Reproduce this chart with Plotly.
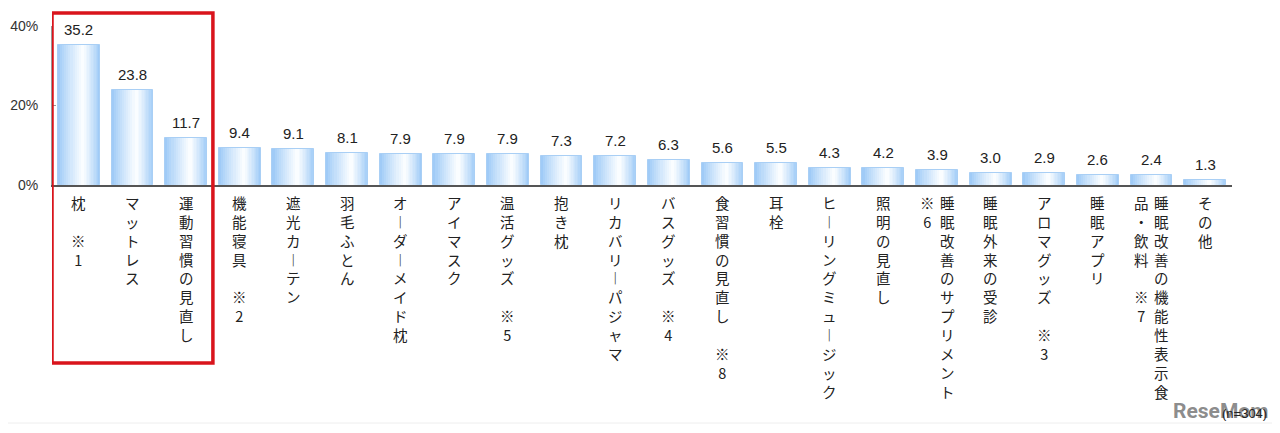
import plotly.graph_objects as go

categories = ["枕　※1", "マットレス", "運動習慣の見直し", "機能寝具　※2", "遮光カーテン", "羽毛ふとん",
              "オーダーメイド枕", "アイマスク", "温活グッズ　※5", "抱き枕", "リカバリーパジャマ",
              "バスグッズ　※4", "食習慣の見直し　※8", "耳栓", "ヒーリングミュージック", "照明の見直し",
              "睡眠改善のサプリメント　※6", "睡眠外来の受診", "アロマグッズ　※3", "睡眠アプリ",
              "睡眠改善の機能性表示食品・飲料　※7", "その他"]
values = [35.2, 23.8, 11.7, 9.4, 9.1, 8.1, 7.9, 7.9, 7.9, 7.3, 7.2, 6.3, 5.6, 5.5, 4.3, 4.2,
          3.9, 3.0, 2.9, 2.6, 2.4, 1.3]
y_ticks = [0, 20, 40]
y_tick_labels = ["0%", "20%", "40%"]
highlighted = 3  # first three categories are boxed
note_text = "(n=304)"
watermark = "ReseMom"

n = len(categories)
xs = list(range(n))

fig = go.Figure()

# gradient bars built from overlaid layers
W = 0.78
N = 12
edge = (160, 203, 247)
white = (250, 253, 255)
for k in range(N):
    a = 1 - k / N
    left = 0.6 - 0.6 * a
    right = 0.6 + 0.4 * a
    t = (k / (N - 1)) ** 0.9
    c = tuple(round(edge[i] * (1 - t) + white[i] * t) for i in range(3))
    fig.add_trace(go.Bar(
        x=xs, y=values, width=W * (right - left), offset=-W / 2 + W * left,
        marker=dict(color="rgb(%d,%d,%d)" % c,
                    line=dict(color="#a9cff5", width=1 if k == 0 else 0)),
        hoverinfo="skip", showlegend=False,
    ))

# value labels
for i, v in enumerate(values):
    fig.add_annotation(x=i, y=v, xref="x", yref="y", text=f"{v:.1f}", showarrow=False,
                       yanchor="bottom", yshift=5,
                       font=dict(family="Liberation Sans, Arial", size=15, color="#222"))

# vertical category labels
vmap = {"ー": "︱"}
COL = 11
for i, lab in enumerate(categories):
    chars = list(lab)
    cols = []
    while chars:
        while chars and chars[0] == "\u3000":
            chars.pop(0)
        if not chars:
            break
        cols.append(chars[:COL])
        chars = chars[COL:]
    nc = len(cols)
    for j, col in enumerate(cols):
        txt = "<br>".join(vmap.get(ch, ch) for ch in col)
        fig.add_annotation(x=i, y=0, xref="x", yref="y", text=txt, showarrow=False,
                           yanchor="top", xanchor="center", yshift=-5,
                           xshift=(nc - 1) / 2 * 20 - j * 20,
                           font=dict(family="Noto Sans CJK JP", size=14.5, color="#222"))

# red highlight box
fig.add_shape(type="rect", xref="x", yref="paper", x0=-0.5, x1=highlighted - 0.5,
              y0=-1.12, y1=1.082, line=dict(color="#d9141c", width=3.5), layer="above")

# faint bottom rule
fig.add_shape(type="line", xref="paper", yref="paper", x0=-0.1, x1=1.1, y0=-1.497, y1=-1.497,
              line=dict(color="#eeeeee", width=1))

fig.add_annotation(xref="paper", yref="paper", x=0.948, y=-1.421, text="<b>" + watermark + "</b>",
                   showarrow=False, xanchor="left", yanchor="middle",
                   font=dict(family="Liberation Sans Narrow, Roboto", size=21,
                             color="rgba(125,125,125,0.9)"))
fig.add_annotation(xref="paper", yref="paper", x=1.031, y=-1.434, text=note_text, showarrow=False,
                   xanchor="right", yanchor="middle",
                   font=dict(family="Liberation Sans, Arial", size=13, color="#222"))

fig.update_layout(
    width=1264, height=417, barmode="overlay", bargap=0,
    margin=dict(l=44, r=40, t=18, b=240, autoexpand=False),
    plot_bgcolor="white", paper_bgcolor="white",
    xaxis=dict(range=[-0.5, n - 0.5], showticklabels=False, showgrid=False, zeroline=False,
               showline=True, linecolor="#555", linewidth=1.5, ticks="", automargin=False),
    yaxis=dict(range=[0, 40], tickmode="array", tickvals=y_ticks, ticktext=y_tick_labels,
               showgrid=False, zeroline=False, automargin=False,
               showline=True, linecolor="#999", linewidth=1, ticks="inside", ticklen=4,
               tickcolor="#999", ticklabelstandoff=10,
               tickfont=dict(family="Liberation Sans, Arial", size=14, color="#333")),
)

fig.write_html("out.html")
